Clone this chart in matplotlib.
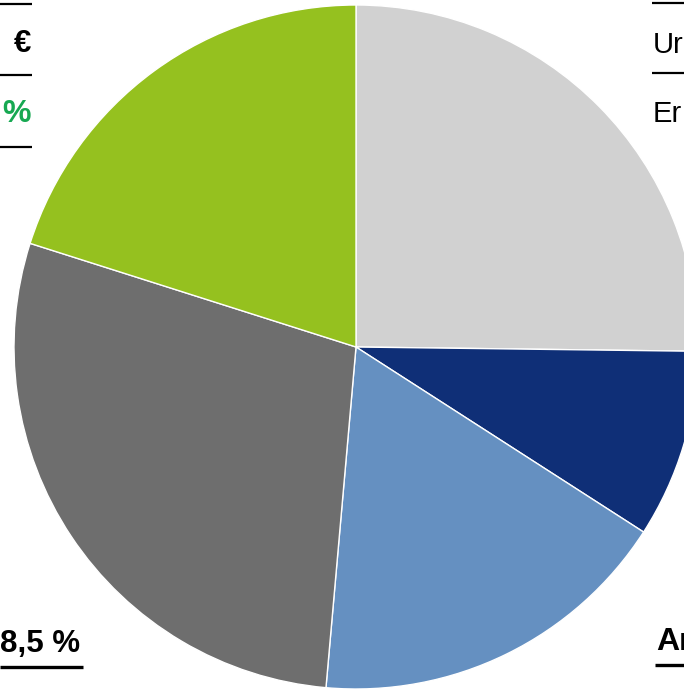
import matplotlib
matplotlib.use("Agg")
import matplotlib.pyplot as plt

plt.rcParams['font.family'] = ['Liberation Sans', 'DejaVu Sans']

# Anteile der Segmente (im Uhrzeigersinn ab 12 Uhr)
shares = [25.2, 8.9, 17.3, 28.5, 20.1]
colors = ["#d1d1d1", "#0f2f77", "#6590c1", "#6e6e6e", "#95c11f"]

W, H = 684, 689

fig = plt.figure(figsize=(W / 100, H / 100), dpi=100)
ax = fig.add_axes([0, 0, 1, 1])

ax.pie(shares, colors=colors, startangle=90, counterclock=False,
       center=(356, H - 347), radius=342,
       wedgeprops=dict(edgecolor="white", linewidth=1))
ax.set_xlim(0, W)
ax.set_ylim(0, H)
ax.set_aspect("auto")
ax.axis("off")


def hline(x0, x1, y, lw=1.6):
    ax.plot([x0, x1], [H - y, H - y], color="black", linewidth=lw,
            solid_capstyle="butt")


# linke Legende (abgeschnitten)
hline(0, 32, 4)
hline(0, 32, 75)
hline(0, 32, 147)
ax.text(31, H - 52, "€", ha="right", va="baseline", fontsize=22.5,
        fontweight="bold", color="black")
ax.text(31, H - 122, "%", ha="right", va="baseline", fontsize=23,
        fontweight="bold", color="#17a852")

# rechte Legende (abgeschnitten)
hline(652, W, 3)
hline(652, W, 73)
ax.text(653, H - 53, "Ur", ha="left", va="baseline", fontsize=21)
ax.text(653, H - 122, "Er", ha="left", va="baseline", fontsize=21)

# Beschriftungen unten
ax.text(80, H - 652, "8,5 %", ha="right", va="baseline", fontsize=22.5,
        fontweight="bold")
hline(0, 83, 667, lw=2.4)
ax.text(656, H - 650, "An", ha="left", va="baseline", fontsize=23,
        fontweight="bold")
hline(655, W, 665, lw=2.4)

fig.savefig("out.png", dpi=100)
